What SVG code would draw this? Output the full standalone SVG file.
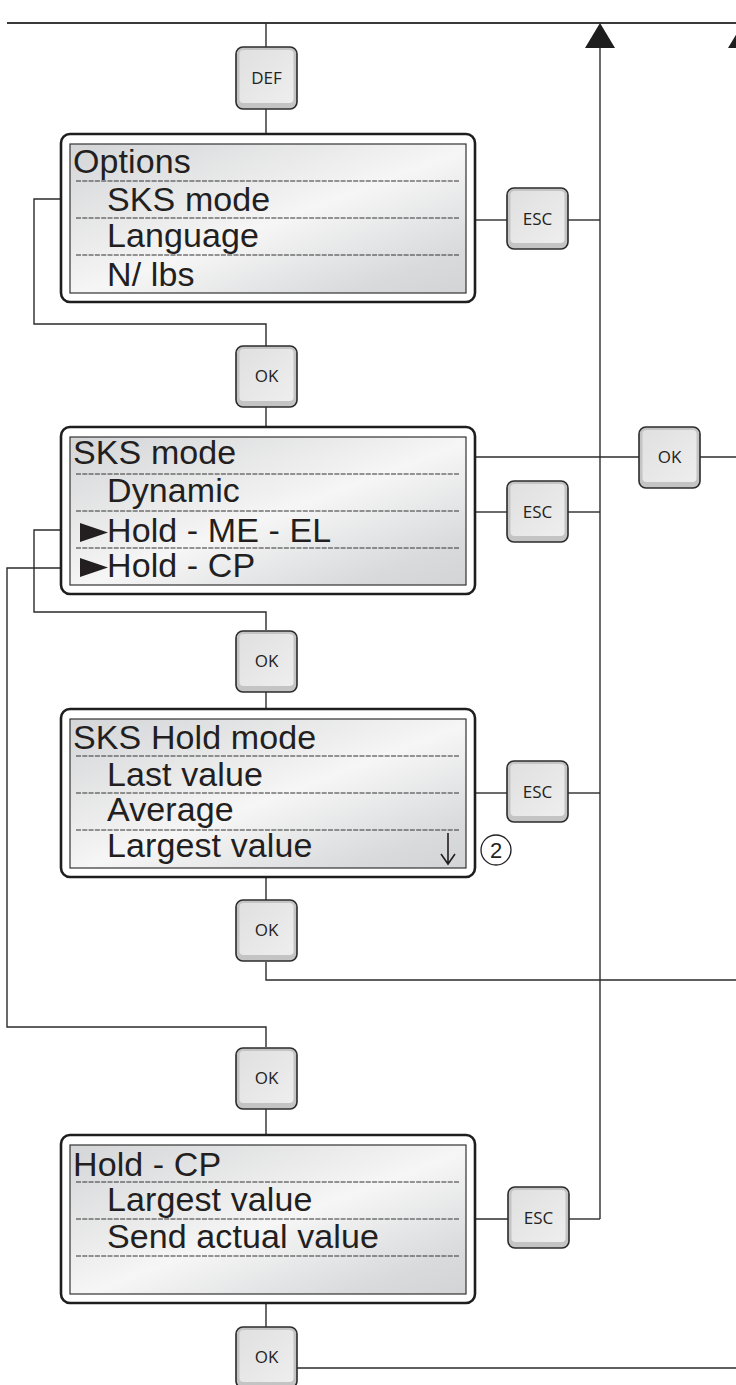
<svg xmlns="http://www.w3.org/2000/svg" width="736" height="1385" viewBox="0 0 736 1385">
<style>
.wire{fill:none;stroke:#2b2b2b;stroke-width:1.4}
.top{fill:none;stroke:#3a3a3a;stroke-width:2}
.outer{fill:#fff;stroke:#1e1e1e;stroke-width:2.6}
.screen{fill:url(#scr);stroke:#333;stroke-width:1.2}
.dash{stroke:#333;stroke-width:1;stroke-dasharray:5 1.3}
.t{font-family:"Liberation Sans",Arial,sans-serif;font-size:34px;letter-spacing:0.1px;fill:#231f20}
.tri{fill:#231f20}
.bo{fill:#c4c4c4;stroke:#2b2b2b;stroke-width:1.6}
.bi{fill:url(#btn)}
.bt{font-family:"Open Sans","Noto Sans",sans-serif;font-size:17px;fill:#222;text-anchor:middle}
.arr{fill:#1e1e1e}
</style>
<defs>
<linearGradient id="scr" x1="0" y1="0" x2="1" y2="1">
<stop offset="0" stop-color="#d4d5d7"/>
<stop offset="0.45" stop-color="#f1f1f1"/>
<stop offset="0.52" stop-color="#f6f6f6"/>
<stop offset="0.85" stop-color="#d9dadc"/>
<stop offset="1" stop-color="#d3d4d6"/>
</linearGradient>
<linearGradient id="btn" x1="0" y1="0" x2="1" y2="1">
<stop offset="0" stop-color="#e0e0e0"/>
<stop offset="1" stop-color="#eeeeee"/>
</linearGradient>
</defs>

<g id="connectors">
<line class="top" x1="7" y1="23" x2="736" y2="23"/>
<polygon class="arr" points="600,23 585,48 615,48"/>
<polygon class="arr" points="743,23 728,48 758,48"/>
<line class="wire" x1="600" y1="48" x2="600" y2="1219"/>
<line class="wire" x1="266" y1="23" x2="266" y2="47"/>
<line class="wire" x1="266" y1="109" x2="266" y2="134"/>
<polyline class="wire" points="61,199 34,199 34,324 266,324 266,346"/>
<line class="wire" x1="266" y1="407" x2="266" y2="427"/>
<polyline class="wire" points="61,530 34,530 34,612 266,612 266,630"/>
<line class="wire" x1="266" y1="692" x2="266" y2="709"/>
<line class="wire" x1="266" y1="877" x2="266" y2="900"/>
<polyline class="wire" points="266,962 266,980 736,980"/>
<polyline class="wire" points="61,568 7,568 7,1027 266,1027 266,1047"/>
<line class="wire" x1="266" y1="1109" x2="266" y2="1135"/>
<line class="wire" x1="266" y1="1303" x2="266" y2="1327"/>
<line class="wire" x1="297" y1="1368" x2="736" y2="1368"/>
<line class="wire" x1="475" y1="220" x2="507" y2="220"/>
<line class="wire" x1="568" y1="220" x2="600" y2="220"/>
<line class="wire" x1="475" y1="457" x2="639" y2="457"/>
<line class="wire" x1="700" y1="457" x2="736" y2="457"/>
<line class="wire" x1="475" y1="512" x2="507" y2="512"/>
<line class="wire" x1="568" y1="512" x2="600" y2="512"/>
<line class="wire" x1="475" y1="793" x2="507" y2="793"/>
<line class="wire" x1="568" y1="793" x2="600" y2="793"/>
<line class="wire" x1="475" y1="1219" x2="508" y2="1219"/>
<line class="wire" x1="569" y1="1219" x2="600" y2="1219"/>
</g>

<g id="btn-def"><rect class="bo" x="236" y="47" width="61" height="62" rx="7"/><rect class="bi" x="239.5" y="50" width="54" height="53" rx="4"/><text class="bt" x="266.5" y="84">DEF</text></g>

<g id="screen-options">
<rect class="outer" x="61" y="134" width="414" height="168" rx="9"/>
<rect class="screen" x="70" y="144" width="396" height="149"/>
<line class="dash" x1="76" y1="181" x2="460" y2="181"/>
<line class="dash" x1="76" y1="218" x2="460" y2="218"/>
<line class="dash" x1="76" y1="255" x2="460" y2="255"/>
<text class="t" x="73" y="173">Options</text>
<text class="t" x="107" y="211">SKS mode</text>
<text class="t" x="107" y="247">Language</text>
<text class="t" x="107" y="286">N/ lbs</text>
</g>

<g id="btn-esc1"><rect class="bo" x="507" y="188" width="61" height="61" rx="7"/><rect class="bi" x="510.5" y="191" width="54" height="52" rx="4"/><text class="bt" x="537.5" y="225">ESC</text></g>

<g id="btn-ok1"><rect class="bo" x="236" y="346" width="61" height="61" rx="7"/><rect class="bi" x="239.5" y="349" width="54" height="52" rx="4"/><text class="bt" x="266.5" y="382">OK</text></g>

<g id="screen-sks-mode">
<rect class="outer" x="61" y="427" width="414" height="167" rx="9"/>
<rect class="screen" x="70" y="437" width="396" height="148"/>
<line class="dash" x1="76" y1="474" x2="460" y2="474"/>
<line class="dash" x1="76" y1="511" x2="460" y2="511"/>
<line class="dash" x1="76" y1="548" x2="460" y2="548"/>
<text class="t" x="73" y="464">SKS mode</text>
<text class="t" x="107" y="502">Dynamic</text>
<polygon class="tri" points="80,523 80,542 108,532.5"/>
<text class="t" x="107" y="542">Hold - ME - EL</text>
<polygon class="tri" points="80,558 80,577 108,567.5"/>
<text class="t" x="107" y="577">Hold - CP</text>
</g>

<g id="btn-esc2"><rect class="bo" x="507" y="481" width="61" height="61" rx="7"/><rect class="bi" x="510.5" y="484" width="54" height="52" rx="4"/><text class="bt" x="537.5" y="518">ESC</text></g>

<g id="btn-ok-side"><rect class="bo" x="639" y="427" width="61" height="61" rx="7"/><rect class="bi" x="642.5" y="430" width="54" height="52" rx="4"/><text class="bt" x="669.5" y="463">OK</text></g>

<g id="btn-ok2"><rect class="bo" x="236" y="631" width="61" height="61" rx="7"/><rect class="bi" x="239.5" y="634" width="54" height="52" rx="4"/><text class="bt" x="266.5" y="667">OK</text></g>

<g id="screen-hold-mode">
<rect class="outer" x="61" y="709" width="414" height="168" rx="9"/>
<rect class="screen" x="70" y="719" width="396" height="149"/>
<line class="dash" x1="76" y1="756" x2="460" y2="756"/>
<line class="dash" x1="76" y1="793" x2="460" y2="793"/>
<line class="dash" x1="76" y1="830" x2="460" y2="830"/>
<text class="t" x="73" y="749">SKS Hold mode</text>
<text class="t" x="107" y="786">Last value</text>
<text class="t" x="107" y="821">Average</text>
<text class="t" x="107" y="857">Largest value</text>
<path d="M448,833 V863 M441,854 L448,864 L455,854" fill="none" stroke="#231f20" stroke-width="1.6"/>
</g>

<g id="note-2"><circle cx="496" cy="850" r="15" fill="none" stroke="#231f20" stroke-width="1.3"/><text x="496" y="858" font-family="Liberation Sans, Arial, sans-serif" font-size="22" fill="#231f20" text-anchor="middle">2</text></g>

<g id="btn-esc3"><rect class="bo" x="507" y="761" width="61" height="61" rx="7"/><rect class="bi" x="510.5" y="764" width="54" height="52" rx="4"/><text class="bt" x="537.5" y="798">ESC</text></g>

<g id="btn-ok3"><rect class="bo" x="236" y="900" width="61" height="61" rx="7"/><rect class="bi" x="239.5" y="903" width="54" height="52" rx="4"/><text class="bt" x="266.5" y="936">OK</text></g>

<g id="btn-ok4"><rect class="bo" x="236" y="1048" width="61" height="61" rx="7"/><rect class="bi" x="239.5" y="1051" width="54" height="52" rx="4"/><text class="bt" x="266.5" y="1084">OK</text></g>

<g id="screen-hold-cp">
<rect class="outer" x="61" y="1135" width="414" height="168" rx="9"/>
<rect class="screen" x="70" y="1145" width="396" height="149"/>
<line class="dash" x1="76" y1="1182" x2="460" y2="1182"/>
<line class="dash" x1="76" y1="1219" x2="460" y2="1219"/>
<line class="dash" x1="76" y1="1256" x2="460" y2="1256"/>
<text class="t" x="73" y="1176">Hold - CP</text>
<text class="t" x="107" y="1211">Largest value</text>
<text class="t" x="107" y="1248">Send actual value</text>
</g>

<g id="btn-esc4"><rect class="bo" x="508" y="1187" width="61" height="61" rx="7"/><rect class="bi" x="511.5" y="1190" width="54" height="52" rx="4"/><text class="bt" x="538.5" y="1224">ESC</text></g>

<g id="btn-ok5"><rect class="bo" x="236" y="1327" width="61" height="61" rx="7"/><rect class="bi" x="239.5" y="1330" width="54" height="52" rx="4"/><text class="bt" x="266.5" y="1363">OK</text></g>
</svg>
